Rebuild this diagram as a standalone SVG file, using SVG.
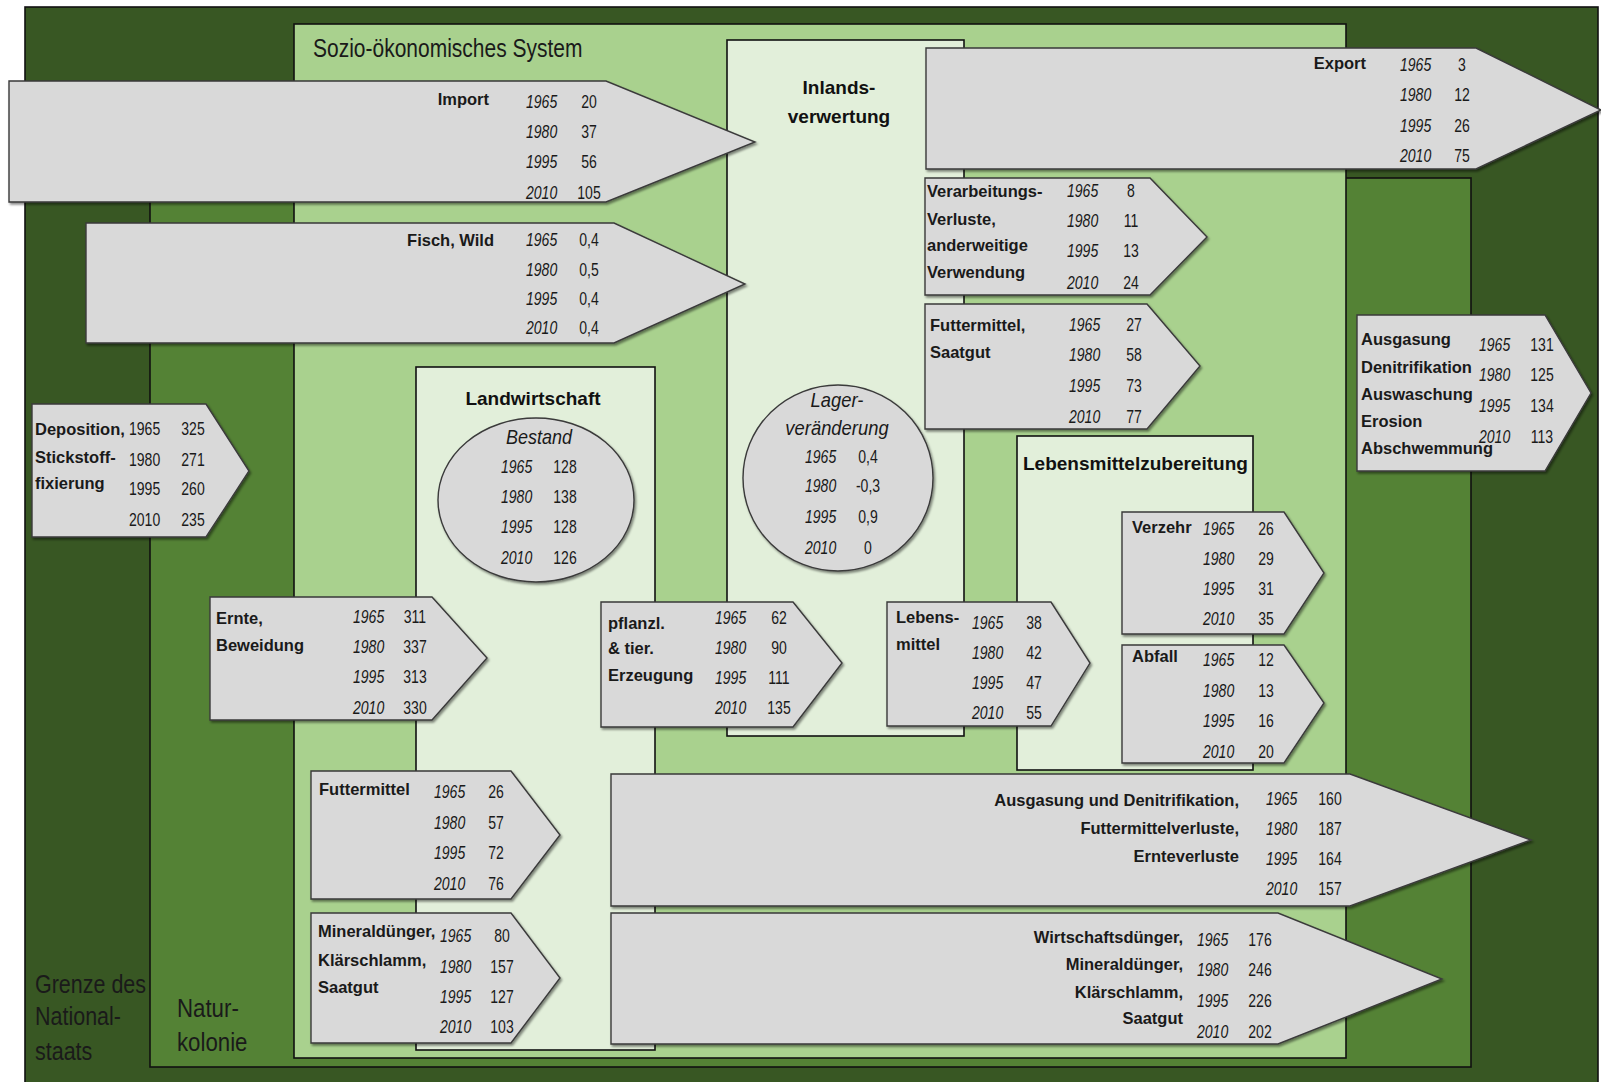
<svg xmlns="http://www.w3.org/2000/svg" width="1601" height="1082" viewBox="0 0 1601 1082">
<defs>
<filter id="sh" x="-5%" y="-5%" width="112%" height="115%">
<feDropShadow dx="1.5" dy="2" stdDeviation="1.2" flood-color="#000" flood-opacity="0.45"/>
</filter>
<style>
.box{stroke:#111;stroke-width:1.6}
.dark{fill:#385723}
.mid{fill:#548235}
.light{fill:#A9D18E}
.pale{fill:#E2EFDA}
.arr{fill:#D9D9D9;stroke:#3a3a3a;stroke-width:1.4;filter:url(#sh)}
.ttl{font-family:"Liberation Sans",Arial,sans-serif;font-weight:bold;font-size:19px;fill:#111}
.big{font-family:"Liberation Sans",Arial,sans-serif;font-size:25px;fill:#1a1a1a}
.lbl{font-family:"Liberation Sans",Arial,sans-serif;font-weight:bold;font-size:16.5px;fill:#1a1a1a}
.yr{font-family:"Liberation Sans",Arial,sans-serif;font-style:italic;font-size:18px;fill:#1a1a1a}
.yu{font-family:"Liberation Sans",Arial,sans-serif;font-size:18px;fill:#1a1a1a}
.val{font-family:"Liberation Sans",Arial,sans-serif;font-size:18px;fill:#1a1a1a;text-anchor:middle}
.it{font-family:"Liberation Sans",Arial,sans-serif;font-style:italic;font-size:20px;fill:#1a1a1a;text-anchor:middle}
.end{text-anchor:end}
.mdl{text-anchor:middle}
</style>
</defs>

<g id="grenze-nationalstaat">
<rect class="box dark" x="25" y="7" width="1573" height="1090"/>
<text class="big" transform="translate(35,993) scale(0.86,1)"><tspan x="0" y="0">Grenze des</tspan><tspan x="0" y="32">National-</tspan><tspan x="0" y="67">staats</tspan></text>
</g>

<g id="naturkolonie">
<rect class="box mid" x="150" y="178" width="1321" height="889"/>
<text class="big" transform="translate(177,1017) scale(0.89,1)"><tspan x="0" y="0">Natur-</tspan><tspan x="0" y="34">kolonie</tspan></text>
</g>

<g id="sozio-oekonomisches-system">
<rect class="box light" x="294" y="24" width="1052" height="1034"/>
<text class="big" transform="translate(313,57) scale(0.84,1)">Sozio-ökonomisches System</text>
</g>

<g id="inlandsverwertung">
<rect class="box pale" x="727" y="40" width="237" height="696"/>
<text class="ttl mdl" x="839" y="94">Inlands-</text>
<text class="ttl mdl" x="839" y="123">verwertung</text>
</g>

<g id="landwirtschaft">
<rect class="box pale" x="416" y="367" width="239" height="683"/>
<text class="ttl mdl" x="533" y="405">Landwirtschaft</text>
</g>

<g id="lebensmittelzubereitung">
<rect class="box pale" x="1017" y="436" width="236" height="334"/>
<text class="ttl" x="1023" y="470">Lebensmittelzubereitung</text>
</g>

<g id="bestand">
<ellipse class="arr" cx="536" cy="500" rx="98" ry="82"/>
<text class="it" transform="translate(539,444) scale(0.9,1)">Bestand</text>
<g transform="translate(501,0) scale(0.78,1)"><text class="yr"><tspan x="0" y="473">1965</tspan><tspan x="0" y="503">1980</tspan><tspan x="0" y="533">1995</tspan><tspan x="0" y="564">2010</tspan></text></g>
<g transform="translate(565,0) scale(0.78,1)"><text class="val"><tspan x="0" y="473">128</tspan><tspan x="0" y="503">138</tspan><tspan x="0" y="533">128</tspan><tspan x="0" y="564">126</tspan></text></g>
</g>

<g id="lagerveraenderung">
<ellipse class="arr" cx="838" cy="478" rx="95" ry="93"/>
<g transform="translate(837,0) scale(0.92,1)"><text class="it"><tspan x="0" y="407">Lager-</tspan><tspan x="0" y="435">veränderung</tspan></text></g>
<g transform="translate(805,0) scale(0.78,1)"><text class="yr"><tspan x="0" y="463">1965</tspan><tspan x="0" y="492">1980</tspan><tspan x="0" y="523">1995</tspan><tspan x="0" y="554">2010</tspan></text></g>
<g transform="translate(868,0) scale(0.78,1)"><text class="val"><tspan x="0" y="463">0,4</tspan><tspan x="0" y="492">-0,3</tspan><tspan x="0" y="523">0,9</tspan><tspan x="0" y="554">0</tspan></text></g>
</g>

<g id="flows">
<g id="import">
<polygon class="arr" points="9,81 606,81 755,142 606,202 9,202"/>
<text class="lbl end" x="489" y="105">Import</text>
<g transform="translate(526,0) scale(0.78,1)"><text class="yr"><tspan x="0" y="108">1965</tspan><tspan x="0" y="138">1980</tspan><tspan x="0" y="168">1995</tspan><tspan x="0" y="199">2010</tspan></text></g>
<g transform="translate(589,0) scale(0.78,1)"><text class="val"><tspan x="0" y="108">20</tspan><tspan x="0" y="138">37</tspan><tspan x="0" y="168">56</tspan><tspan x="0" y="199">105</tspan></text></g>
</g>

<g id="fisch-wild">
<polygon class="arr" points="86,223 614,223 745,284 614,343 86,343"/>
<text class="lbl end" x="494" y="246">Fisch, Wild</text>
<g transform="translate(526,0) scale(0.78,1)"><text class="yr"><tspan x="0" y="246">1965</tspan><tspan x="0" y="276">1980</tspan><tspan x="0" y="305">1995</tspan><tspan x="0" y="334">2010</tspan></text></g>
<g transform="translate(589,0) scale(0.78,1)"><text class="val"><tspan x="0" y="246">0,4</tspan><tspan x="0" y="276">0,5</tspan><tspan x="0" y="305">0,4</tspan><tspan x="0" y="334">0,4</tspan></text></g>
</g>

<g id="export">
<polygon class="arr" points="926,48 1476,48 1601,110 1476,169 926,169"/>
<text class="lbl end" x="1366" y="69">Export</text>
<g transform="translate(1400,0) scale(0.78,1)"><text class="yr"><tspan x="0" y="71">1965</tspan><tspan x="0" y="101">1980</tspan><tspan x="0" y="132">1995</tspan><tspan x="0" y="162">2010</tspan></text></g>
<g transform="translate(1462,0) scale(0.78,1)"><text class="val"><tspan x="0" y="71">3</tspan><tspan x="0" y="101">12</tspan><tspan x="0" y="132">26</tspan><tspan x="0" y="162">75</tspan></text></g>
</g>

<g id="verarbeitungsverluste">
<polygon class="arr" points="925,178 1150,178 1207,237 1150,295 925,295"/>
<text class="lbl"><tspan x="927" y="197">Verarbeitungs-</tspan><tspan x="927" y="225">Verluste,</tspan><tspan x="927" y="251">anderweitige</tspan><tspan x="927" y="278">Verwendung</tspan></text>
<g transform="translate(1067,0) scale(0.78,1)"><text class="yr"><tspan x="0" y="197">1965</tspan><tspan x="0" y="227">1980</tspan><tspan x="0" y="257">1995</tspan><tspan x="0" y="289">2010</tspan></text></g>
<g transform="translate(1131,0) scale(0.78,1)"><text class="val"><tspan x="0" y="197">8</tspan><tspan x="0" y="227">11</tspan><tspan x="0" y="257">13</tspan><tspan x="0" y="289">24</tspan></text></g>
</g>

<g id="futtermittel-saatgut-export">
<polygon class="arr" points="925,304 1147,304 1200,366 1147,429 925,429"/>
<text class="lbl"><tspan x="930" y="331">Futtermittel,</tspan><tspan x="930" y="358">Saatgut</tspan></text>
<g transform="translate(1069,0) scale(0.78,1)"><text class="yr"><tspan x="0" y="331">1965</tspan><tspan x="0" y="361">1980</tspan><tspan x="0" y="392">1995</tspan><tspan x="0" y="423">2010</tspan></text></g>
<g transform="translate(1134,0) scale(0.78,1)"><text class="val"><tspan x="0" y="331">27</tspan><tspan x="0" y="361">58</tspan><tspan x="0" y="392">73</tspan><tspan x="0" y="423">77</tspan></text></g>
</g>

<g id="ausgasung-auswaschung">
<polygon class="arr" points="1357,315 1545,315 1591,393 1545,471 1357,471"/>
<text class="lbl"><tspan x="1361" y="345">Ausgasung</tspan><tspan x="1361" y="373">Denitrifikation</tspan><tspan x="1361" y="400">Auswaschung</tspan><tspan x="1361" y="427">Erosion</tspan><tspan x="1361" y="454">Abschwemmung</tspan></text>
<g transform="translate(1479,0) scale(0.78,1)"><text class="yr"><tspan x="0" y="351">1965</tspan><tspan x="0" y="381">1980</tspan><tspan x="0" y="412">1995</tspan><tspan x="0" y="443">2010</tspan></text></g>
<g transform="translate(1542,0) scale(0.78,1)"><text class="val"><tspan x="0" y="351">131</tspan><tspan x="0" y="381">125</tspan><tspan x="0" y="412">134</tspan><tspan x="0" y="443">113</tspan></text></g>
</g>

<g id="deposition">
<polygon class="arr" points="32,404 206,404 249,471 206,537 32,537"/>
<text class="lbl"><tspan x="35" y="435">Deposition,</tspan><tspan x="35" y="463">Stickstoff-</tspan><tspan x="35" y="489">fixierung</tspan></text>
<g transform="translate(129,0) scale(0.78,1)"><text class="yu"><tspan x="0" y="435">1965</tspan><tspan x="0" y="466">1980</tspan><tspan x="0" y="495">1995</tspan><tspan x="0" y="526">2010</tspan></text></g>
<g transform="translate(193,0) scale(0.78,1)"><text class="val"><tspan x="0" y="435">325</tspan><tspan x="0" y="466">271</tspan><tspan x="0" y="495">260</tspan><tspan x="0" y="526">235</tspan></text></g>
</g>

<g id="ernte-beweidung">
<polygon class="arr" points="210,597 432,597 487,658 432,720 210,720"/>
<text class="lbl"><tspan x="216" y="624">Ernte,</tspan><tspan x="216" y="651">Beweidung</tspan></text>
<g transform="translate(353,0) scale(0.78,1)"><text class="yr"><tspan x="0" y="623">1965</tspan><tspan x="0" y="653">1980</tspan><tspan x="0" y="683">1995</tspan><tspan x="0" y="714">2010</tspan></text></g>
<g transform="translate(415,0) scale(0.78,1)"><text class="val"><tspan x="0" y="623">311</tspan><tspan x="0" y="653">337</tspan><tspan x="0" y="683">313</tspan><tspan x="0" y="714">330</tspan></text></g>
</g>

<g id="pflanzl-tier-erzeugung">
<polygon class="arr" points="601,602 793,602 842,663 793,727 601,727"/>
<text class="lbl"><tspan x="608" y="629">pflanzl.</tspan><tspan x="608" y="654">&amp; tier.</tspan><tspan x="608" y="681">Erzeugung</tspan></text>
<g transform="translate(715,0) scale(0.78,1)"><text class="yr"><tspan x="0" y="624">1965</tspan><tspan x="0" y="654">1980</tspan><tspan x="0" y="684">1995</tspan><tspan x="0" y="714">2010</tspan></text></g>
<g transform="translate(779,0) scale(0.78,1)"><text class="val"><tspan x="0" y="624">62</tspan><tspan x="0" y="654">90</tspan><tspan x="0" y="684">111</tspan><tspan x="0" y="714">135</tspan></text></g>
</g>

<g id="lebensmittel">
<polygon class="arr" points="887,602 1051,602 1090,663 1051,726 887,726"/>
<text class="lbl"><tspan x="896" y="623">Lebens-</tspan><tspan x="896" y="650">mittel</tspan></text>
<g transform="translate(972,0) scale(0.78,1)"><text class="yr"><tspan x="0" y="629">1965</tspan><tspan x="0" y="659">1980</tspan><tspan x="0" y="689">1995</tspan><tspan x="0" y="719">2010</tspan></text></g>
<g transform="translate(1034,0) scale(0.78,1)"><text class="val"><tspan x="0" y="629">38</tspan><tspan x="0" y="659">42</tspan><tspan x="0" y="689">47</tspan><tspan x="0" y="719">55</tspan></text></g>
</g>

<g id="verzehr">
<polygon class="arr" points="1122,512 1284,512 1324,573 1284,634 1122,634"/>
<text class="lbl" x="1132" y="533">Verzehr</text>
<g transform="translate(1203,0) scale(0.78,1)"><text class="yr"><tspan x="0" y="535">1965</tspan><tspan x="0" y="565">1980</tspan><tspan x="0" y="595">1995</tspan><tspan x="0" y="625">2010</tspan></text></g>
<g transform="translate(1266,0) scale(0.78,1)"><text class="val"><tspan x="0" y="535">26</tspan><tspan x="0" y="565">29</tspan><tspan x="0" y="595">31</tspan><tspan x="0" y="625">35</tspan></text></g>
</g>

<g id="abfall">
<polygon class="arr" points="1122,645 1284,645 1324,703 1284,763 1122,763"/>
<text class="lbl" x="1132" y="662">Abfall</text>
<g transform="translate(1203,0) scale(0.78,1)"><text class="yr"><tspan x="0" y="666">1965</tspan><tspan x="0" y="697">1980</tspan><tspan x="0" y="727">1995</tspan><tspan x="0" y="758">2010</tspan></text></g>
<g transform="translate(1266,0) scale(0.78,1)"><text class="val"><tspan x="0" y="666">12</tspan><tspan x="0" y="697">13</tspan><tspan x="0" y="727">16</tspan><tspan x="0" y="758">20</tspan></text></g>
</g>

<g id="futtermittel-import">
<polygon class="arr" points="311,771 511,771 560,835 511,899 311,899"/>
<text class="lbl" x="319" y="795">Futtermittel</text>
<g transform="translate(434,0) scale(0.78,1)"><text class="yr"><tspan x="0" y="798">1965</tspan><tspan x="0" y="829">1980</tspan><tspan x="0" y="859">1995</tspan><tspan x="0" y="890">2010</tspan></text></g>
<g transform="translate(496,0) scale(0.78,1)"><text class="val"><tspan x="0" y="798">26</tspan><tspan x="0" y="829">57</tspan><tspan x="0" y="859">72</tspan><tspan x="0" y="890">76</tspan></text></g>
</g>

<g id="mineralduenger-import">
<polygon class="arr" points="311,913 511,913 560,978 511,1043 311,1043"/>
<text class="lbl"><tspan x="318" y="937">Mineraldünger,</tspan><tspan x="318" y="966">Klärschlamm,</tspan><tspan x="318" y="993">Saatgut</tspan></text>
<g transform="translate(440,0) scale(0.78,1)"><text class="yr"><tspan x="0" y="942">1965</tspan><tspan x="0" y="973">1980</tspan><tspan x="0" y="1003">1995</tspan><tspan x="0" y="1033">2010</tspan></text></g>
<g transform="translate(502,0) scale(0.78,1)"><text class="val"><tspan x="0" y="942">80</tspan><tspan x="0" y="973">157</tspan><tspan x="0" y="1003">127</tspan><tspan x="0" y="1033">103</tspan></text></g>
</g>

<g id="ausgasung-denitrifikation-verluste">
<polygon class="arr" points="611,774 1350,774 1531,840 1350,906 611,906"/>
<text class="lbl end"><tspan x="1239" y="806">Ausgasung und Denitrifikation,</tspan><tspan x="1239" y="834">Futtermittelverluste,</tspan><tspan x="1239" y="862">Ernteverluste</tspan></text>
<g transform="translate(1266,0) scale(0.78,1)"><text class="yr"><tspan x="0" y="805">1965</tspan><tspan x="0" y="835">1980</tspan><tspan x="0" y="865">1995</tspan><tspan x="0" y="895">2010</tspan></text></g>
<g transform="translate(1330,0) scale(0.78,1)"><text class="val"><tspan x="0" y="805">160</tspan><tspan x="0" y="835">187</tspan><tspan x="0" y="865">164</tspan><tspan x="0" y="895">157</tspan></text></g>
</g>

<g id="wirtschaftsduenger">
<polygon class="arr" points="611,913 1278,913 1442,979 1278,1044 611,1044"/>
<text class="lbl end"><tspan x="1183" y="943">Wirtschaftsdünger,</tspan><tspan x="1183" y="970">Mineraldünger,</tspan><tspan x="1183" y="998">Klärschlamm,</tspan><tspan x="1183" y="1024">Saatgut</tspan></text>
<g transform="translate(1197,0) scale(0.78,1)"><text class="yr"><tspan x="0" y="946">1965</tspan><tspan x="0" y="976">1980</tspan><tspan x="0" y="1007">1995</tspan><tspan x="0" y="1038">2010</tspan></text></g>
<g transform="translate(1260,0) scale(0.78,1)"><text class="val"><tspan x="0" y="946">176</tspan><tspan x="0" y="976">246</tspan><tspan x="0" y="1007">226</tspan><tspan x="0" y="1038">202</tspan></text></g>
</g>
</g>
</svg>
